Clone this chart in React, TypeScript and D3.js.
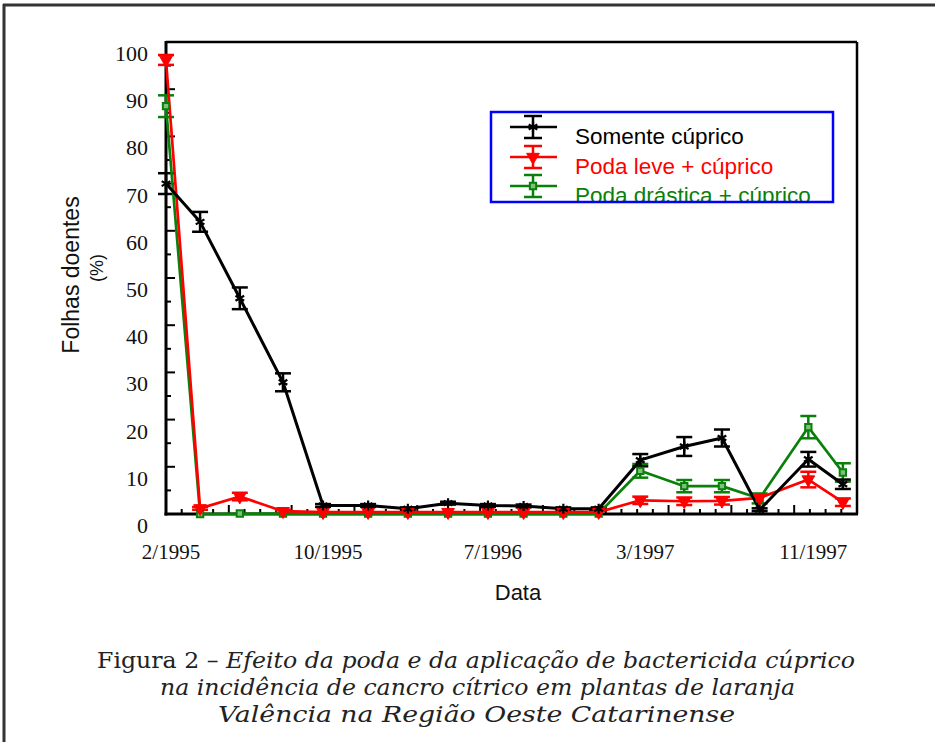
import React from "react";
import * as d3 from "d3";

// Sampling positions along the x axis (axis units; minor tick = 1 unit)
const xPositions = [0, 2.17, 4.7, 7.45, 10.0, 12.87, 15.4, 17.96, 20.5, 22.77, 25.3, 27.55, 30.2, 33.0, 35.4, 37.8, 40.9, 43.1];
const xTickLabels = ["2/1995", "10/1995", "7/1996", "3/1997", "11/1997"];
const xTickLabelIndex = [0, 4, 8, 12, 16];
const yTickValues = [0, 10, 20, 30, 40, 50, 60, 70, 80, 90, 100];

const seriesNames = ["Somente cúprico", "Poda leve + cúprico", "Poda drástica + cúprico"];
const seriesColors = ["#000000", "#ff0000", "#0a800a"];

const somenteMean = [70.0, 61.9, 45.7, 27.9, 1.8, 1.8, 1.1, 2.3, 1.8, 1.7, 1.1, 1.1, 11.4, 14.3, 16.1, 0.9, 11.6, 6.3];
const somenteErr = [2.2, 2.1, 2.3, 1.9, 0.3, 0.3, 0.3, 0.3, 0.3, 0.3, 0.3, 0.3, 1.3, 2.0, 1.8, 0.3, 1.55, 1.0];

const levaMean = [96.2, 1.2, 3.7, 0.6, 0.4, 0.4, 0.4, 0.4, 0.4, 0.4, 0.4, 0.4, 2.9, 2.7, 2.8, 3.4, 7.3, 2.5];
const levaErr = [1.05, 0.3, 0.8, 0.3, 0, 0, 0, 0, 0, 0, 0, 0, 0.78, 0.8, 0.8, 0, 1.65, 0.8];

const drasticaMean = [86.4, 0, 0.1, 0.1, 0.1, 0.1, 0.1, 0.1, 0.1, 0.1, 0.1, 0.1, 9.15, 5.9, 5.9, 3.3, 18.4, 8.8];
const drasticaErr = [2.3, 0, 0, 0, 0, 0, 0, 0, 0, 0, 0, 0, 1.45, 1.3, 1.3, 1.05, 2.36, 1.95];

const captionHead = "Figura 2 – ";
const captionLine1 = "Efeito da poda e da aplicação de bactericida cúprico";
const captionLines = [
  "na incidência de cancro cítrico em plantas de laranja",
  "Valência na Região Oeste Catarinense",
];

export default function App() {
  const W = 935;
  const H = 742;
  const x = d3.scaleLinear().domain([0, 44]).range([166, 857]);
  const y = d3.scaleLinear().domain([0, 100]).range([514, 42]);

  const means = [somenteMean, levaMean, drasticaMean];
  const errs = [somenteErr, levaErr, drasticaErr];
  const drawOrder = [2, 1, 0];

  const line = d3
    .line<number>()
    .x((_, i) => x(xPositions[i]))
    .y((d) => y(d));

  const asterisk = d3.symbol(d3.symbolAsterisk, 70)() as string;
  const triangle = d3.symbol(d3.symbolTriangle, 70)() as string;
  const square = d3.symbol(d3.symbolSquare, 40)() as string;

  const marker = (s: number, cx: number, cy: number, key: string) => {
    const c = seriesColors[s];
    if (s === 0)
      return <path key={key} d={asterisk} transform={`translate(${cx},${cy})`} fill="none" stroke={c} strokeWidth={2.2} />;
    if (s === 1)
      return <path key={key} d={triangle} transform={`translate(${cx},${cy}) rotate(180)`} fill={c} stroke={c} strokeWidth={1} />;
    return <path key={key} d={square} transform={`translate(${cx},${cy})`} fill="#7fbf7f" stroke={c} strokeWidth={2} />;
  };

  const capW = 8;
  const xMinor = d3.range(0, 45, 1);
  const yMinor = d3.range(0, 101, 5);

  const legendRows = [127, 157, 186];
  const capFont = "DejaVu Serif, serif";

  return (
    <svg width={W} height={H} style={{ position: "absolute", left: 0, top: 0, background: "#fff" }}>
      <rect x={0} y={0} width={W} height={H} fill="#fff" />
      {/* outer frame */}
      <line x1={4} y1={4} x2={4} y2={H} stroke="#333" strokeWidth={3} />
      <line x1={3} y1={5} x2={W} y2={5} stroke="#333" strokeWidth={3} />

      <defs>
        <clipPath id="legclip">
          <rect x={491} y={112} width={342} height={90} />
        </clipPath>
      </defs>

      {/* plot box */}
      <line x1={x(0)} y1={y(100)} x2={x(44)} y2={y(100)} stroke="#000" strokeWidth={2.5} />
      <line x1={x(44)} y1={y(100)} x2={x(44)} y2={y(0)} stroke="#000" strokeWidth={2.5} />

      {/* y ticks */}
      {yMinor.map((v) => (
        <line key={"yt" + v} x1={x(0)} x2={x(0) + (v % 10 === 0 ? 9 : 5)} y1={y(v)} y2={y(v)} stroke="#000" strokeWidth={2} />
      ))}
      {yTickValues.map((v) => (
        <text key={"yl" + v} x={148} y={y(v) + 19} textAnchor="end" fontFamily="Liberation Serif, Times New Roman, serif" fontSize={22} fill="#111">
          {v}
        </text>
      ))}

      {/* x ticks */}
      {xMinor.map((v) => (
        <line key={"xt" + v} x1={x(v)} x2={x(v)} y1={y(0)} y2={y(0) - (v % 4 === 0 ? 9 : 5)} stroke="#000" strokeWidth={2} />
      ))}
      {xTickLabelIndex.map((idx, k) => (
        <text key={"xl" + k} x={x(xPositions[idx]) + 5} y={559} textAnchor="middle" fontFamily="Liberation Serif, Times New Roman, serif" fontSize={21} fill="#111">
          {xTickLabels[k]}
        </text>
      ))}

      {/* axes */}
      <line x1={x(0)} y1={y(100) - 1} x2={x(0)} y2={y(0) + 1.5} stroke="#000" strokeWidth={3} />
      <line x1={x(0) - 1.5} y1={y(0)} x2={x(44) + 1} y2={y(0)} stroke="#000" strokeWidth={3} />

      {/* error bars */}
      {drawOrder.map((s) => (
        <g key={"eb" + s} stroke={seriesColors[s]} strokeWidth={2.5}>
          {means[s].map((m, i) => {
            const e = errs[s][i];
            if (!e) return null;
            const cx = x(xPositions[i]);
            return (
              <g key={i}>
                <line x1={cx} x2={cx} y1={y(m - e)} y2={y(m + e)} />
                <line x1={cx - capW} x2={cx + capW} y1={y(m + e)} y2={y(m + e)} />
                <line x1={cx - capW} x2={cx + capW} y1={y(m - e)} y2={y(m - e)} />
              </g>
            );
          })}
        </g>
      ))}

      {/* lines */}
      {drawOrder.map((s) => (
        <path key={"ln" + s} d={line(means[s]) as string} fill="none" stroke={seriesColors[s]} strokeWidth={s === 0 ? 3 : 2.7} strokeLinejoin="round" />
      ))}

      {/* markers */}
      {drawOrder.map((s) => (
        <g key={"mk" + s}>{means[s].map((m, i) => marker(s, x(xPositions[i]), y(m), s + "-" + i))}</g>
      ))}

      {/* legend */}
      <rect x={491} y={112} width={342} height={90} fill="#fff" />
      <g clipPath="url(#legclip)">
        {seriesNames.map((name, s) => {
          const ly = legendRows[s];
          return (
            <g key={"lg" + s}>
              <g stroke={seriesColors[s]} strokeWidth={2.5}>
                <line x1={510} x2={557} y1={ly} y2={ly} />
                <line x1={533} x2={533} y1={ly - 11} y2={ly + 11} />
                <line x1={524} x2={542} y1={ly - 11} y2={ly - 11} />
                <line x1={524} x2={542} y1={ly + 11} y2={ly + 11} />
              </g>
              {marker(s, 533, ly, "lm" + s)}
              <text x={575} y={ly + 17} fontFamily="Liberation Sans, Arial, sans-serif" fontSize={22.5} fill={seriesColors[s]}>
                {name}
              </text>
            </g>
          );
        })}
      </g>
      <rect x={491} y={112} width={342} height={90} fill="none" stroke="#0000ff" strokeWidth={2.5} />

      {/* axis titles */}
      <text x={518} y={600} textAnchor="middle" fontFamily="Liberation Sans, Arial, sans-serif" fontSize={22} fill="#111">
        Data
      </text>
      <text transform="translate(79,275) rotate(-90)" textAnchor="middle" fontFamily="Liberation Sans, Arial, sans-serif" fontSize={23} fill="#111">
        Folhas doentes
      </text>
      <text transform="translate(103,268) rotate(-90)" textAnchor="middle" fontFamily="Liberation Sans, Arial, sans-serif" fontSize={18} fill="#111">
        (%)
      </text>

      {/* caption */}
      <text x={97} y={668} fontFamily={capFont} fontSize={23} fill="#222" textLength={758} lengthAdjust="spacingAndGlyphs">
        <tspan>{captionHead}</tspan>
        <tspan fontStyle="italic">{captionLine1}</tspan>
      </text>
      <text x={160} y={695} fontFamily={capFont} fontStyle="italic" fontSize={23} fill="#222" textLength={635} lengthAdjust="spacingAndGlyphs">
        {captionLines[0]}
      </text>
      <text x={218} y={722} fontFamily={capFont} fontStyle="italic" fontSize={23} fill="#222" textLength={517} lengthAdjust="spacingAndGlyphs">
        {captionLines[1]}
      </text>
    </svg>
  );
}
